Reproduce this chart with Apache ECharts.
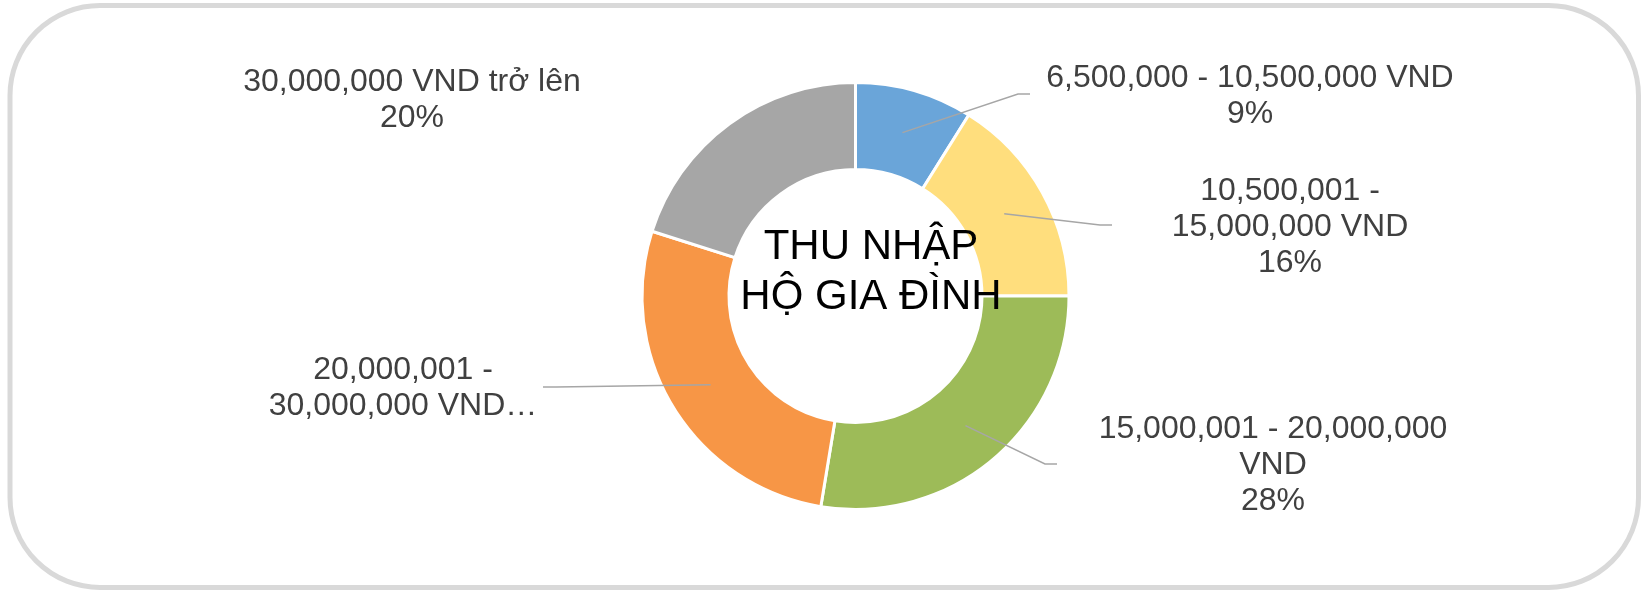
<!DOCTYPE html>
<html>
<head>
<meta charset="utf-8">
<script src="https://cdn.jsdelivr.net/npm/echarts@6/dist/echarts.min.js"></script>
<style>
  html, body { margin: 0; padding: 0; background: #ffffff; }
  #chart { width: 1641px; height: 590px; }
</style>
</head>
<body>
<div id="chart"></div>
<script>
// ---- data ----
var categories = [
  '6,500,000 - 10,500,000 VND',
  '10,500,001 - 15,000,000 VND',
  '15,000,001 - 20,000,000 VND',
  '20,000,001 - 30,000,000 VND',
  '30,000,000 VND trở lên'
];
var values = [8.9, 16.1, 27.6, 27.3, 20.1];
var labelTexts = [
  '6,500,000 - 10,500,000 VND',
  '10,500,001 -\n15,000,000 VND',
  '15,000,001 - 20,000,000\nVND',
  '20,000,001 -\n30,000,000 VND…',
  '30,000,000 VND trở lên'
];
var showPercent = [true, true, true, false, true];
var colors = ['#6AA5D9', '#FFDE7D', '#9DBB58', '#F79646', '#A6A6A6'];
var centerTitle = 'THU NHẬP\nHỘ GIA ĐÌNH';

// ---- layout (positions of label boxes, not data) ----
var labelPos = [
  { x: 1250, y: 96,  elbow: [1018, 94],  end: [1030, 94] },
  { x: 1290, y: 227, elbow: [1100, 225], end: [1112, 225] },
  { x: 1273, y: 465, elbow: [1045, 464], end: [1057, 464] },
  { x: 403,  y: 388, elbow: [556, 387],  end: [543, 387] },
  { x: 412,  y: 100, elbow: null,        end: null }
];
var CX = 855.5, CY = 296;
var FONT = '"Liberation Sans", Arial, sans-serif';

var chart = echarts.init(document.getElementById('chart'), null, { renderer: 'canvas' });

var ringData = categories.map(function (c, i) {
  return { name: c, value: values[i], itemStyle: { color: colors[i] } };
});
var labelData = categories.map(function (c, i) {
  return {
    name: c, value: values[i],
    labelLine: { show: labelPos[i].end !== null }
  };
});

var option = {
  backgroundColor: '#ffffff',
  animation: false,
  graphic: [
    {
      type: 'rect',
      shape: { x: 10, y: 5.5, width: 1628.5, height: 582, r: 90 },
      style: { fill: 'none', stroke: '#D9D9D9', lineWidth: 5 },
      silent: true, z: 0
    },
    {
      type: 'text',
      x: 871, y: 272, z: 100,
      style: {
        text: centerTitle,
        fontSize: 42, fontFamily: FONT, fill: '#000000',
        align: 'center', verticalAlign: 'middle', lineHeight: 50
      },
      silent: true
    }
  ],
  series: [
    {
      type: 'pie',
      center: [CX, CY],
      radius: [126.5, 213.5],
      startAngle: 90,
      clockwise: true,
      silent: true,
      label: { show: false },
      labelLine: { show: false },
      itemStyle: { borderColor: '#ffffff', borderWidth: 3 },
      data: ringData
    },
    {
      type: 'pie',
      center: [CX, CY],
      radius: [0, 170],
      startAngle: 90,
      clockwise: true,
      silent: true,
      z: 5,
      avoidLabelOverlap: false,
      itemStyle: { color: 'rgba(0,0,0,0)', borderWidth: 0 },
      label: {
        show: true,
        position: 'outside',
        color: '#404040',
        fontSize: 32,
        fontFamily: FONT,
        lineHeight: 36,
        align: 'center',
        formatter: function (p) {
          var t = labelTexts[p.dataIndex];
          if (showPercent[p.dataIndex]) t += '\n' + Math.round(p.percent) + '%';
          return t;
        }
      },
      labelLine: {
        show: true,
        length: 20, length2: 10,
        smooth: false,
        lineStyle: { color: '#A6A6A6', width: 1.5, opacity: 1 }
      },
      labelLayout: function (params) {
        var lp = labelPos[params.dataIndex];
        var res = { x: lp.x, y: lp.y, align: 'center', verticalAlign: 'middle' };
        if (lp.end && params.labelLinePoints && params.labelLinePoints.length) {
          var p0 = params.labelLinePoints[0];
          res.labelLinePoints = [[p0[0], p0[1]], lp.elbow, lp.end];
        }
        return res;
      },
      data: labelData
    }
  ]
};
chart.setOption(option);
</script>
</body>
</html>
